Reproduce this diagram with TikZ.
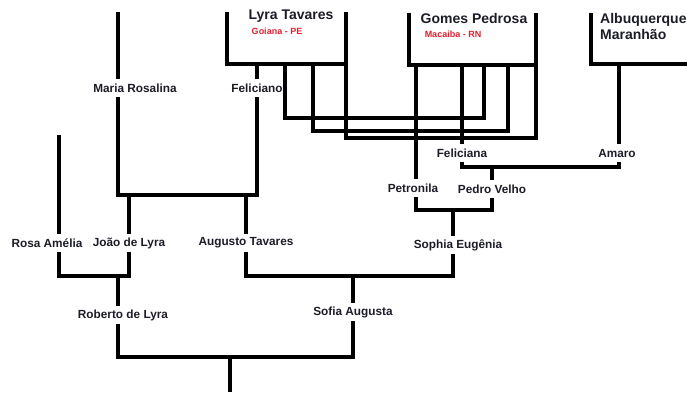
\documentclass[tikz,border=0pt]{standalone}
\usepackage{fontspec}
\setmainfont{Liberation Sans}
\usetikzlibrary{positioning,calc}
\definecolor{placered}{RGB}{228,30,45}
\definecolor{inkgray}{RGB}{28,28,40}
\tikzset{
  person/.style={font=\bfseries\fontsize{11.8}{13}\selectfont, text=inkgray, inner sep=0pt, minimum height=17pt},
  family/.style={font=\bfseries\fontsize{14}{16}\selectfont, text=inkgray, inner sep=0pt, align=left},
  place/.style={font=\bfseries\fontsize{9}{10}\selectfont, text=placered, inner sep=0pt},
  link/.style={line width=3.3pt, line join=miter}
}

\begin{document}
\begin{tikzpicture}[x=1pt,y=-1pt]
\useasboundingbox (0,0) rectangle (687,392);

% family houses
\node[family] (lyra) at (291,16) {Lyra Tavares};
\node[place] (goiana) at (277,31) {Goiana - PE};
\node[family] (gomes) at (474,18) {Gomes Pedrosa};
\node[place] (macaiba) at (453,34) {Macaiba - RN};
\node[family, anchor=north west] (albuq) at (600,13) {Albuquerque\\Maranhão};

% persons
\node[person] (rosalina) at (135,88) {Maria Rosalina};
\node[person] (feliciano) at (257,88) {Feliciano};
\node[person] (feliciana) at (462,153) {Feliciana};
\node[person] (amaro) at (617,153) {Amaro};
\node[person] (petronila) at (413,188) {Petronila};
\node[person] (pedro) at (492,189) {Pedro Velho};
\node[person] (rosa) at (47,243) {Rosa Amélia};
\node[person] (joao) at (129,243) {João de Lyra};
\node[person] (augusto) at (246,243) {Augusto Tavares};
\node[person] (sophia) at (458,245) {Sophia Eugênia};
\node[person] (roberto) at (123,315) {Roberto de Lyra};
\node[person] (sofia) at (353,312) {Sofia Augusta};

% corners and joints
\coordinate (lyraNW) at (227,12);
\coordinate (lyraNE) at (346,12);
\coordinate (lyraSE) at (346,64);
\coordinate (lyraA) at (285,64);
\coordinate (lyraB) at (313,64);
\coordinate (gomesNW) at (409,13);
\coordinate (gomesNE) at (536,13);
\coordinate (gomesSE) at (536,65);
\coordinate (gomesP) at (416,65);
\coordinate (gomesF) at (462,65);
\coordinate (albuqNW) at (591,13);
\coordinate (albuqSE) at (687,64);
\coordinate (albuqA) at (619,64);
\coordinate (tieA) at (484,118);
\coordinate (tieB) at (508,131);
\coordinate (tieC) at (536,138);
\coordinate (rosalinaTop) at (118,12);
\coordinate (rosaTop) at (59,135);
\coordinate (union1) at (118,195);
\coordinate (union2) at (492,167);
\coordinate (union3) at (453,210);
\coordinate (union4) at (353,276);
\coordinate (union5) at (118,276);
\coordinate (union6) at (230,357);
\coordinate (bottom) at (230,392);

% houses
\draw[link] (lyraNW) |- (lyraSE) -- (lyraNE);
\draw[link] (gomesNW) |- (gomesSE) -- (gomesNE);
\draw[link] (albuqNW) |- (albuqSE);

% Lyra Tavares x Gomes Pedrosa
\draw[link] (lyraA) |- (tieA) -- (tieA |- gomesSE);
\draw[link] (lyraB) |- (tieB) -- (tieB |- gomesSE);
\draw[link] (lyraSE) |- (tieC) -- (gomesSE);

% Maria Rosalina + Feliciano
\draw[link] (rosalinaTop) -- (rosalinaTop |- rosalina.north);
\draw[link] (rosalinaTop |- rosalina.south) |- (feliciano.south |- union1) -- (feliciano.south);
\draw[link] (feliciano.north) -- (feliciano.north |- lyraSE);
\draw[link] (joao.north) -- (joao.north |- union1);
\draw[link] (augusto.north) -- (augusto.north |- union1);

% Feliciana + Amaro
\draw[link] (gomesF) -- (feliciana.north);
\draw[link] (albuqA) -- (albuqA |- amaro.north);
\draw[link] (feliciana.south) |- (albuqA |- union2) -- (albuqA |- amaro.south);
\draw[link] (union2) -- (pedro.north);

% Petronila + Pedro Velho
\draw[link] (gomesP) -- (gomesP |- petronila.north);
\draw[link] (gomesP |- petronila.south) |- (pedro.south |- union3) -- (pedro.south);
\draw[link] (union3) -- (union3 |- sophia.north);

% Augusto Tavares + Sophia Eugenia
\draw[link] (augusto.south) |- (union4) -| (union3 |- sophia.south);
\draw[link] (union4) -- (sofia.north);

% Rosa Amelia + Joao de Lyra
\draw[link] (rosaTop) -- (rosaTop |- rosa.north);
\draw[link] (rosaTop |- rosa.south) |- (joao.south |- union5) -- (joao.south);
\draw[link] (union5) -- (union5 |- roberto.north);

% Roberto de Lyra + Sofia Augusta
\draw[link] (union5 |- roberto.south) |- (sofia.south |- union6) -- (sofia.south);
\draw[link] (union6) -- (bottom);

\end{tikzpicture}
\end{document}
